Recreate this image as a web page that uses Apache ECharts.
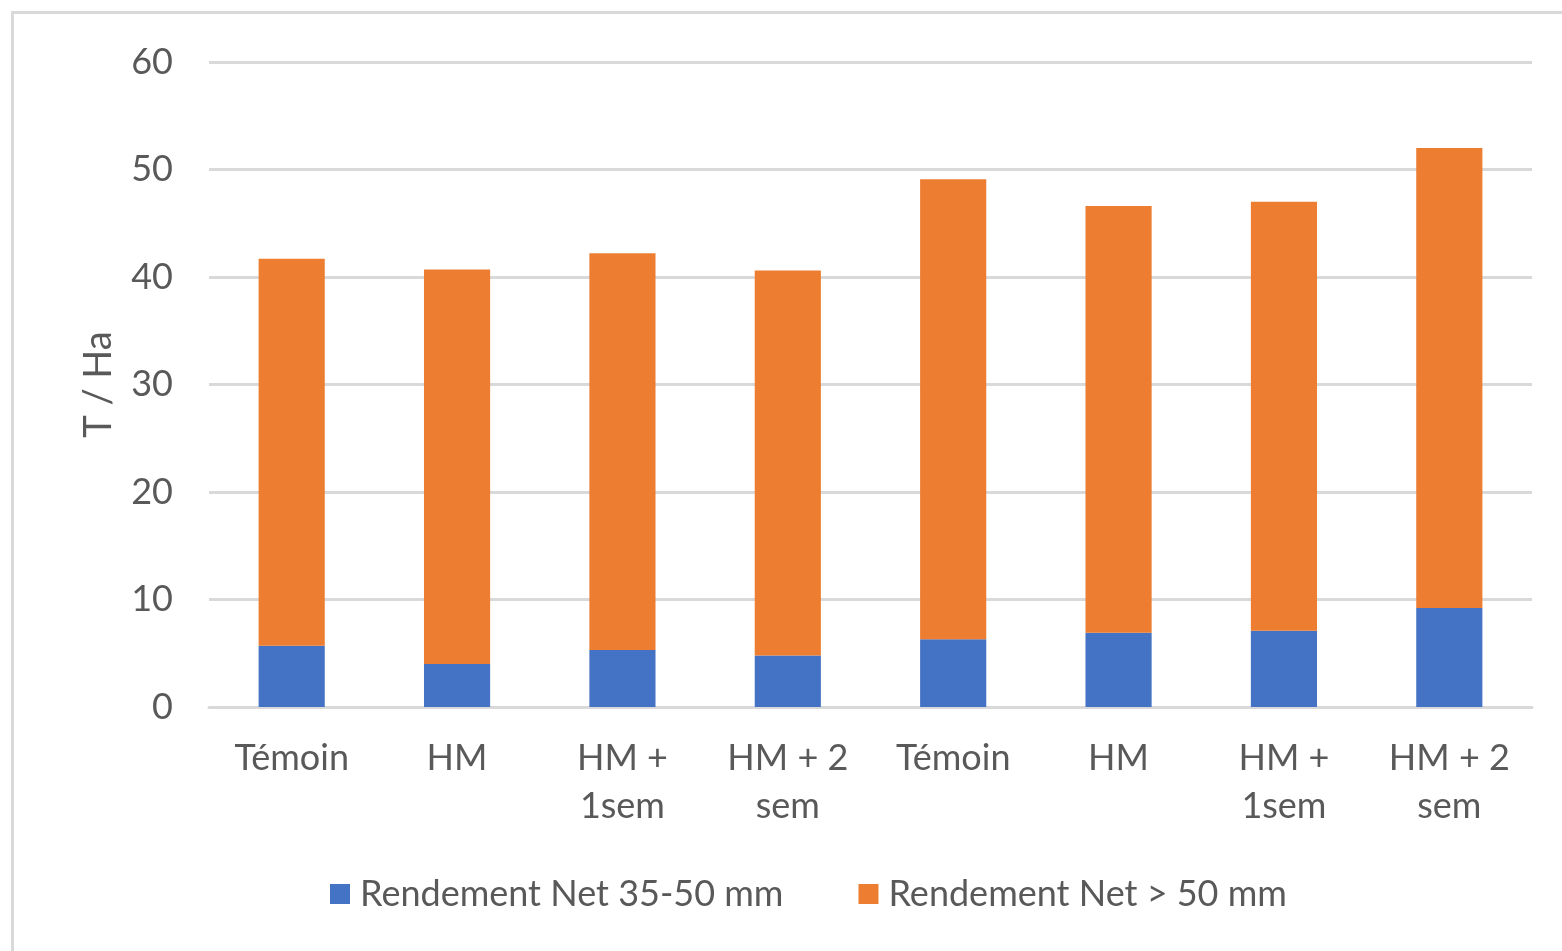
<!DOCTYPE html>
<html>
<head>
<meta charset="utf-8">
<script src="https://cdn.jsdelivr.net/npm/echarts@6/dist/echarts.min.js"></script>
<style>
html,body{margin:0;padding:0;background:#fff;}
#frame{position:absolute;left:11px;top:11px;width:1560px;height:950px;border:3px solid #d9d9d9;box-sizing:border-box;}
#chart{position:absolute;left:0;top:0;width:1562px;height:951px;}
</style>
</head>
<body>
<div id="frame"></div>
<div id="chart"></div>
<script>
const categories = ['Témoin', 'HM', 'HM +\n1sem', 'HM + 2\nsem', 'Témoin', 'HM', 'HM +\n1sem', 'HM + 2\nsem'];
const seriesNames = ['Rendement Net 35-50 mm', 'Rendement Net > 50 mm'];
const small = [5.7, 4.0, 5.3, 4.8, 6.3, 6.9, 7.1, 9.2];
const large = [36.0, 36.7, 36.9, 35.8, 42.8, 39.7, 39.9, 42.8];
const yTicks = [0, 10, 20, 30, 40, 50, 60];

const chart = echarts.init(document.getElementById('chart'));
const font = 'Lato, "Open Sans", sans-serif';
chart.setOption({
  animation: false,
  textStyle: { fontFamily: font },
  grid: { left: 209, right: 30, top: 62, bottom: 244, containLabel: false },
  legend: {
    bottom: 34,
    left: 325,
    itemWidth: 20, itemHeight: 20, itemGap: 75,
    icon: 'rect',
    textStyle: { fontSize: 36, color: '#595959', fontFamily: font, padding: [0, 0, 0, 5] },
    data: seriesNames
  },
  xAxis: {
    type: 'category',
    data: categories,
    axisLine: { show: true, lineStyle: { color: '#d9d9d9', width: 3 } },
    axisTick: { show: false },
    axisLabel: { fontSize: 36, color: '#595959', lineHeight: 48, margin: 27, interval: 0, fontFamily: font }
  },
  yAxis: {
    type: 'value',
    min: yTicks[0], max: yTicks[yTicks.length - 1], interval: 10,
    name: 'T / Ha',
    nameLocation: 'middle',
    nameGap: 91,
    nameRotate: 90,
    nameTextStyle: { fontSize: 38, color: '#595959', fontFamily: font },
    axisLine: { show: false },
    axisTick: { show: false },
    axisLabel: { fontSize: 36, color: '#595959', margin: 36, fontFamily: font },
    splitLine: { lineStyle: { color: '#d9d9d9', width: 3 } }
  },
  series: [
    { name: seriesNames[0], type: 'bar', stack: 'a', data: small, barWidth: '40%', itemStyle: { color: '#4472c4' } },
    { name: seriesNames[1], type: 'bar', stack: 'a', data: large, barWidth: '40%', itemStyle: { color: '#ed7d31' } }
  ]
});
</script>
</body>
</html>
